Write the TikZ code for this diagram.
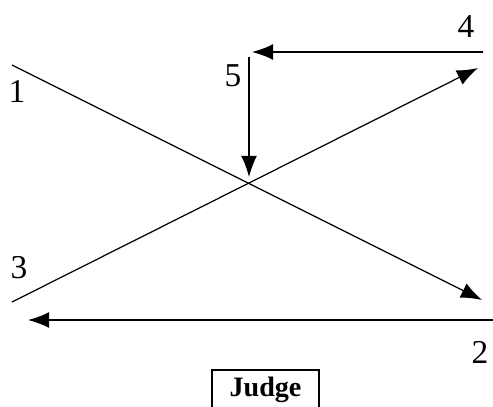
\documentclass[tikz,border=0pt]{standalone}
\usepackage{fontspec}
\setmainfont{Liberation Serif}
\usetikzlibrary{arrows.meta,positioning}

\begin{document}
\begin{tikzpicture}[
  x=0.02cm, y=-0.02cm,
  >={Latex[length=12pt,width=9pt]},
  ln/.style={draw,line width=0.7pt},
  num/.style={font=\fontsize{19}{22}\selectfont,inner sep=0pt},
  judgebox/.style={draw,line width=0.7pt,minimum width=2.14cm,minimum height=0.8cm,font=\fontsize{16}{18}\selectfont\bfseries}
]
\useasboundingbox (0,0) rectangle (493,406);
% end points of the five connectors
\coordinate (s1) at (12,65);   \coordinate (e1) at (482,300);
\coordinate (s3) at (12,302);  \coordinate (e3) at (478,68);
\coordinate (s4) at (483,52);  \coordinate (e4) at (252,52);
\coordinate (s5) at (249,57);  \coordinate (e5) at (249,177);
\coordinate (s2) at (493,320); \coordinate (e2) at (28,320);
\draw[ln,->] (s1) -- (e1);
\draw[ln,->] (s3) -- (e3);
\draw[ln,->] (s4) -- (e4);
\draw[ln,->] (s5) -- (e5);
\draw[ln,->] (s2) -- (e2);
% labels
\node[num] (n1) at (17,91) {1};
\node[num] (n2) at (480,352) {2};
\node[num] (n3) at (19,268) {3};
\node[num] (n4) at (466,27) {4};
\node[num] (n5) at (233,76) {5};
\node[judgebox] (judge) at (265.5,390) {Judge};
\end{tikzpicture}
\end{document}
